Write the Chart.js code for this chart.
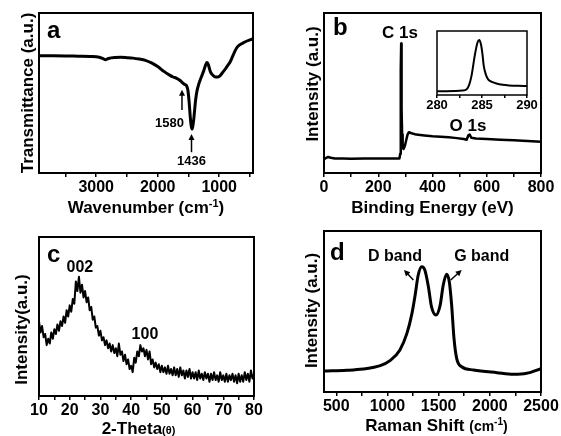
<!DOCTYPE html>
<html>
<head>
<meta charset="utf-8">
<script src="https://cdn.jsdelivr.net/npm/chart.js@4.4.1/dist/chart.umd.min.js"></script>
<style>
  body { margin: 0; background: #fff; }
  #fig { position: relative; width: 561px; height: 436px; }
  #fig canvas { position: absolute; }
</style>
</head>
<body>
<div id="fig">
  <canvas id="panelA" width="280" height="218" style="left:0;top:0"></canvas>
  <canvas id="panelB" width="281" height="218" style="left:280px;top:0"></canvas>
  <canvas id="panelC" width="280" height="218" style="left:0;top:218px"></canvas>
  <canvas id="panelD" width="281" height="218" style="left:280px;top:218px"></canvas>
  <canvas id="insetB" width="125" height="96" style="left:420px;top:22px"></canvas>
</div>
<script>
// (a) FTIR
const ftirWavenumber = [3930, 3700, 3500, 3300, 3100, 2950, 2880, 2850, 2800, 2700,
  2600, 2500, 2400, 2300, 2200, 2100, 2000, 1900, 1800, 1750,
  1700, 1640, 1600, 1560, 1530, 1510, 1490, 1470, 1455, 1442,
  1430, 1415, 1400, 1385, 1365, 1340, 1310, 1280, 1250, 1225,
  1200, 1180, 1160, 1140, 1100, 1060, 1020, 980, 950, 900,
  860, 820, 780, 740, 700, 650, 600, 550, 500, 450];
const ftirTransmittance = [73.3, 73.3, 73.2, 73, 72.8, 72.3, 71.3, 70.8, 71.6, 72.2,
  72.3, 72.1, 71.8, 71.2, 70.4, 68.8, 66.5, 63.5, 61, 60,
  59.3, 58, 56.5, 55.3, 54.5, 52, 45, 35, 29.5, 27.5,
  29, 33, 39, 45, 50.5, 54.5, 58, 61, 64, 67,
  69, 68, 65.5, 63, 61, 60, 60, 61, 62.5, 65,
  67.3, 69.5, 73, 76.5, 79, 80.5, 81.5, 82.5, 83.2, 84];
const ftirTicks = [3500, 3000, 2500, 2000, 1500, 1000, 500];
const ftirTickLabels = [3000, 2000, 1000];

// (b) XPS survey
const xpsEnergy = [0, 8, 15, 25, 40, 70, 100, 150, 200, 250,
  278, 281, 282.5, 283.5, 284.5, 285.5, 286.5, 288, 290, 293,
  296, 299, 303, 308, 313, 320, 340, 370, 400, 430,
  460, 490, 515, 526, 532, 537, 543, 560, 600, 650,
  700, 750, 800];
const xpsIntensity = [8.5, 9.5, 10, 9.5, 9, 9, 8.9, 9, 9, 9,
  9, 12, 35, 65, 81, 62, 40, 24, 18, 15,
  16, 17.5, 20.5, 24, 25.5, 25, 24, 23.5, 23, 22.7,
  22.3, 21.8, 21.3, 20.8, 23.5, 24, 22, 21.5, 21.2, 20.8,
  20.4, 20, 19.6];
const xpsTicks = [0, 100, 200, 300, 400, 500, 600, 700, 800];
const xpsTickLabels = [0, 200, 400, 600, 800];

// (b) inset, C 1s
const c1sEnergy = [280, 281, 282, 282.8, 283.3, 283.6, 283.85, 284.2, 284.5, 284.7,
  284.9, 285.05, 285.2, 285.45, 285.7, 286.1, 286.6, 287.3, 288, 289, 290];
const c1sIntensity = [6, 6, 6.2, 7, 9, 17, 31, 62, 82, 86,
  78, 64, 45, 31, 24, 20.5, 18, 16, 15, 14.3, 14];
const c1sTicks = [280, 282.5, 285, 287.5, 290];
const c1sTickLabels = [280, 285, 290];

// (c) XRD
const xrdAngle = [10, 10.5, 11, 11.5, 12, 12.5, 13, 13.5, 14, 14.5,
  15, 15.5, 16, 16.5, 17, 17.5, 18, 18.5, 19, 19.5,
  20, 20.5, 21, 21.5, 22, 22.5, 23, 23.5, 24, 24.5,
  25, 25.5, 26, 26.5, 27, 27.5, 28, 28.5, 29, 29.5,
  30, 30.5, 31, 31.5, 32, 32.5, 33, 33.5, 34, 34.5,
  35, 35.5, 36, 36.5, 37, 37.5, 38, 38.5, 39, 39.5,
  40, 40.5, 41, 41.5, 42, 42.5, 43, 43.5, 44, 44.5,
  45, 45.5, 46, 46.5, 47, 47.5, 48, 48.5, 49, 49.5,
  50, 50.5, 51, 51.5, 52, 52.5, 53, 53.5, 54, 54.5,
  55, 55.5, 56, 56.5, 57, 57.5, 58, 58.5, 59, 59.5,
  60, 60.5, 61, 61.5, 62, 62.5, 63, 63.5, 64, 64.5,
  65, 65.5, 66, 66.5, 67, 67.5, 68, 68.5, 69, 69.5,
  70, 70.5, 71, 71.5, 72, 72.5, 73, 73.5, 74, 74.5,
  75, 75.5, 76, 76.5, 77, 77.5, 78, 78.5, 79, 79.5,
  80];
const xrdIntensity = [47, 40, 44, 37, 39, 32, 36, 33, 40, 36,
  42, 39, 45, 41, 47, 44, 50, 46, 54, 50,
  57, 53, 61, 58, 72, 66, 75, 65, 70, 62,
  66, 59, 62, 54, 56, 48, 50, 43, 44, 38,
  41, 35, 37, 32, 35, 30, 33, 28, 32, 27,
  30, 25, 33, 26, 28, 22, 26, 20, 23, 17,
  19, 15, 24, 21, 28, 25, 32, 28, 30, 25,
  29, 23, 28, 20, 23, 18, 21, 17, 20, 15,
  19, 15, 18, 14, 19, 14, 17, 13, 18, 13,
  17, 12, 18, 13, 16, 11, 16, 12, 17, 11,
  15, 11, 15, 10, 16, 11, 14, 10, 15, 11,
  14, 9, 14, 10, 15, 10, 13, 9, 15, 10,
  13, 9, 14, 9, 13, 10, 14, 9, 13, 8,
  14, 9, 13, 9, 15, 10, 14, 9, 16, 11,
  14];
const xrdTicks = [10, 15, 20, 25, 30, 35, 40, 45, 50, 55, 60, 65, 70, 75, 80];
const xrdTickLabels = [10, 20, 30, 40, 50, 60, 70, 80];

// (d) Raman
const ramanShift = [380, 600, 760, 930, 1025, 1120, 1190, 1240, 1270, 1300,
  1335, 1365, 1400, 1430, 1474, 1515, 1545, 1578, 1604, 1627,
  1650, 1676, 1725, 1840, 2070, 2230, 2360, 2500];
const ramanIntensity = [13, 13.5, 14.3, 16.4, 19.5, 26, 36.4, 49, 60, 72.5,
  77.8, 75.8, 65.4, 53, 47.8, 54, 66.5, 73.1, 68.5, 54,
  33.3, 20.9, 15.7, 13.7, 12, 11, 11.6, 14.5];
const ramanTicks = [500, 750, 1000, 1250, 1500, 1750, 2000, 2250, 2500];
const ramanTickLabels = [500, 1000, 1500, 2000, 2500];

const FAMILY = '"Liberation Sans", Arial, Helvetica, sans-serif';
const boldFont = size => 'bold ' + size + 'px ' + FAMILY;

// draws text made of parts with different sizes; y is the visual centre of the main text
function drawRich(ctx, parts, x, y, angle) {
  ctx.save();
  ctx.translate(x, y);
  if (angle) ctx.rotate(angle);
  let total = 0;
  parts.forEach(p => { ctx.font = boldFont(p.size); total += ctx.measureText(p.text).width; });
  let cx = -total / 2;
  const base = 0.36 * parts[0].size;
  ctx.textAlign = 'left';
  ctx.textBaseline = 'alphabetic';
  ctx.fillStyle = '#000';
  parts.forEach(p => {
    ctx.font = boldFont(p.size);
    ctx.fillText(p.text, cx, base - (p.rise || 0));
    cx += ctx.measureText(p.text).width;
  });
  ctx.restore();
}

function drawArrow(ctx, x1, y1, x2, y2) {
  const ang = Math.atan2(y2 - y1, x2 - x1);
  const head = 6, half = 3;
  const c = Math.cos(ang), s = Math.sin(ang);
  ctx.save();
  ctx.strokeStyle = '#000';
  ctx.fillStyle = '#000';
  ctx.lineWidth = 1.5;
  ctx.beginPath();
  ctx.moveTo(x1, y1);
  ctx.lineTo(x2 - head * 0.8 * c, y2 - head * 0.8 * s);
  ctx.stroke();
  ctx.beginPath();
  ctx.moveTo(x2, y2);
  ctx.lineTo(x2 - head * c + half * s, y2 - head * s - half * c);
  ctx.lineTo(x2 - head * c - half * s, y2 - head * s + half * c);
  ctx.closePath();
  ctx.fill();
  ctx.restore();
}

function textPlugin(cfg) {
  return {
    id: 'figureText',
    beforeDatasetsDraw(chart) {
      if (!cfg.whiteArea) return;
      const a = chart.chartArea;
      chart.ctx.save();
      chart.ctx.fillStyle = '#fff';
      chart.ctx.fillRect(a.left, a.top, a.right - a.left, a.bottom - a.top);
      chart.ctx.restore();
    },
    afterDraw(chart) {
      const ctx = chart.ctx;
      const a = chart.chartArea;
      const xs = chart.scales.x, ys = chart.scales.y;
      ctx.save();
      ctx.strokeStyle = '#000';
      ctx.lineWidth = cfg.frameWidth || 2;
      ctx.strokeRect(a.left, a.top, a.right - a.left, a.bottom - a.top);
      ctx.restore();

      if (cfg.xTitle) drawRich(ctx, cfg.xTitle.parts, (a.left + a.right) / 2 + (cfg.xTitle.dx || 0), a.bottom + cfg.xTitle.dy, 0);
      if (cfg.yTitle) drawRich(ctx, cfg.yTitle.parts, a.left - cfg.yTitle.dx, (a.top + a.bottom) / 2 + (cfg.yTitle.dy || 0), -Math.PI / 2);

      (cfg.labels || []).forEach(l => {
        const px = l.x !== undefined ? xs.getPixelForValue(l.x) : a.left + l.dx;
        const py = l.y !== undefined ? ys.getPixelForValue(l.y) : a.top + l.dy;
        ctx.save();
        ctx.font = boldFont(l.size);
        ctx.fillStyle = '#000';
        ctx.textAlign = l.align || 'center';
        ctx.textBaseline = l.baseline || 'middle';
        ctx.fillText(l.text, px, py);
        ctx.restore();
      });

      (cfg.arrows || []).forEach(ar => drawArrow(ctx,
        xs.getPixelForValue(ar.from[0]), ys.getPixelForValue(ar.from[1]),
        xs.getPixelForValue(ar.to[0]), ys.getPixelForValue(ar.to[1])));
    }
  };
}

function makePanel(id, cfg) {
  return new Chart(document.getElementById(id), {
    type: 'line',
    data: {
      datasets: [{
        data: cfg.x.map((v, i) => ({ x: v, y: cfg.y[i] })),
        borderColor: '#000',
        borderWidth: cfg.lineWidth,
        pointRadius: 0,
        tension: cfg.smooth ? 0.4 : 0,
        cubicInterpolationMode: cfg.smooth ? 'monotone' : 'default',
        borderJoinStyle: 'round'
      }]
    },
    options: {
      responsive: false,
      animation: false,
      devicePixelRatio: 1,
      layout: { padding: cfg.padding },
      plugins: { legend: { display: false }, tooltip: { enabled: false } },
      scales: {
        x: {
          type: 'linear',
          min: cfg.xMin,
          max: cfg.xMax,
          reverse: !!cfg.reverse,
          afterBuildTicks: s => { s.ticks = cfg.ticks.map(v => ({ value: v })); },
          // fixed band under the plot for ticks and their labels
          afterFit: s => { s.height = cfg.axisHeight; },
          ticks: {
            autoSkip: false,
            maxRotation: 0,
            padding: cfg.tickPadding !== undefined ? cfg.tickPadding : 1,
            color: '#000',
            font: { family: FAMILY, size: cfg.tickSize || 16, weight: 'bold' },
            callback: v => cfg.tickLabels.includes(v) ? String(v) : ''
          },
          grid: { drawOnChartArea: false, tickLength: cfg.tickLength || 4, color: '#000', lineWidth: 1.5 },
          border: { display: false }
        },
        y: { display: false, min: 0, max: 100 }
      }
    },
    plugins: [textPlugin(cfg)]
  });
}

makePanel('panelA', {
  x: ftirWavenumber, y: ftirTransmittance, lineWidth: 3, smooth: true,
  xMin: 450, xMax: 3930, reverse: true,
  ticks: ftirTicks, tickLabels: ftirTickLabels,
  axisHeight: 26,
  padding: { left: 39, top: 13, right: 27, bottom: 19 },
  xTitle: { dy: 34, parts: [{ text: 'Wavenumber (cm', size: 17 }, { text: '-1', size: 11, rise: 6 }, { text: ')', size: 17 }] },
  yTitle: { dx: 12, parts: [{ text: 'Transmittance (a.u.)', size: 17 }] },
  labels: [
    { text: 'a', size: 24, dx: 8, dy: 25, align: 'left', baseline: 'alphabetic' },
    { text: '1580', size: 13, x: 1572, y: 31, align: 'right' },
    { text: '1436', size: 13, x: 1450, y: 7.5 }
  ],
  arrows: [
    { from: [1605, 39.4], to: [1605, 52] },
    { from: [1450, 13], to: [1450, 24.4] }
  ]
});

makePanel('panelB', {
  x: xpsEnergy, y: xpsIntensity, lineWidth: 2.5,
  xMin: 0, xMax: 800,
  ticks: xpsTicks, tickLabels: xpsTickLabels,
  axisHeight: 26,
  padding: { left: 44, top: 13, right: 20, bottom: 19 },
  xTitle: { dy: 34, parts: [{ text: 'Binding Energy (eV)', size: 17 }] },
  yTitle: { dx: 12, dy: -9, parts: [{ text: 'Intensity (a.u.)', size: 17 }] },
  labels: [
    { text: 'b', size: 24, dx: 9, dy: 22, align: 'left', baseline: 'alphabetic' },
    { text: 'C 1s', size: 17, x: 280, y: 87.5 },
    { text: 'O 1s', size: 17, x: 531, y: 29.4 }
  ]
});

makePanel('insetB', {
  x: c1sEnergy, y: c1sIntensity, lineWidth: 2, smooth: true,
  xMin: 280, xMax: 290,
  ticks: c1sTicks, tickLabels: c1sTickLabels,
  tickSize: 13, tickLength: 3, tickPadding: 0,
  axisHeight: 20,
  padding: { left: 17, top: 9, right: 18, bottom: 3 },
  frameWidth: 1.5, whiteArea: true
});

makePanel('panelC', {
  x: xrdAngle, y: xrdIntensity, lineWidth: 2,
  xMin: 10, xMax: 80,
  ticks: xrdTicks, tickLabels: xrdTickLabels,
  axisHeight: 26,
  padding: { left: 39, top: 19, right: 26, bottom: 14 },
  xTitle: { dy: 32, dx: -8, parts: [{ text: '2-Theta', size: 17 }, { text: '(θ)', size: 11 }] },
  yTitle: { dx: 18, dy: 13, parts: [{ text: 'Intensity(a.u.)', size: 17 }] },
  labels: [
    { text: 'c', size: 24, dx: 8, dy: 25, align: 'left', baseline: 'alphabetic' },
    { text: '002', size: 16, x: 23.3, y: 81 },
    { text: '100', size: 16, x: 44.5, y: 38.4 }
  ]
});

makePanel('panelD', {
  x: ramanShift, y: ramanIntensity, lineWidth: 3, smooth: true,
  xMin: 380, xMax: 2500,
  ticks: ramanTicks, tickLabels: ramanTickLabels,
  axisHeight: 26,
  padding: { left: 44, top: 13, right: 20, bottom: 18 },
  xTitle: { dy: 33, dx: 4, parts: [{ text: 'Raman Shift ', size: 17 }, { text: '(cm', size: 14 }, { text: '-1', size: 10, rise: 6 }, { text: ')', size: 14 }] },
  yTitle: { dx: 13, dy: -1, parts: [{ text: 'Intensity (a.u.)', size: 17 }] },
  labels: [
    { text: 'd', size: 24, dx: 6, dy: 29, align: 'left', baseline: 'alphabetic' },
    { text: 'D band', size: 16, x: 1074, y: 83.9 },
    { text: 'G band', size: 16, x: 1921, y: 83.9 }
  ],
  arrows: [
    { from: [1253, 69.6], to: [1162, 75.8] },
    { from: [1618, 69.6], to: [1725, 75.8] }
  ]
});
</script>
</body>
</html>
